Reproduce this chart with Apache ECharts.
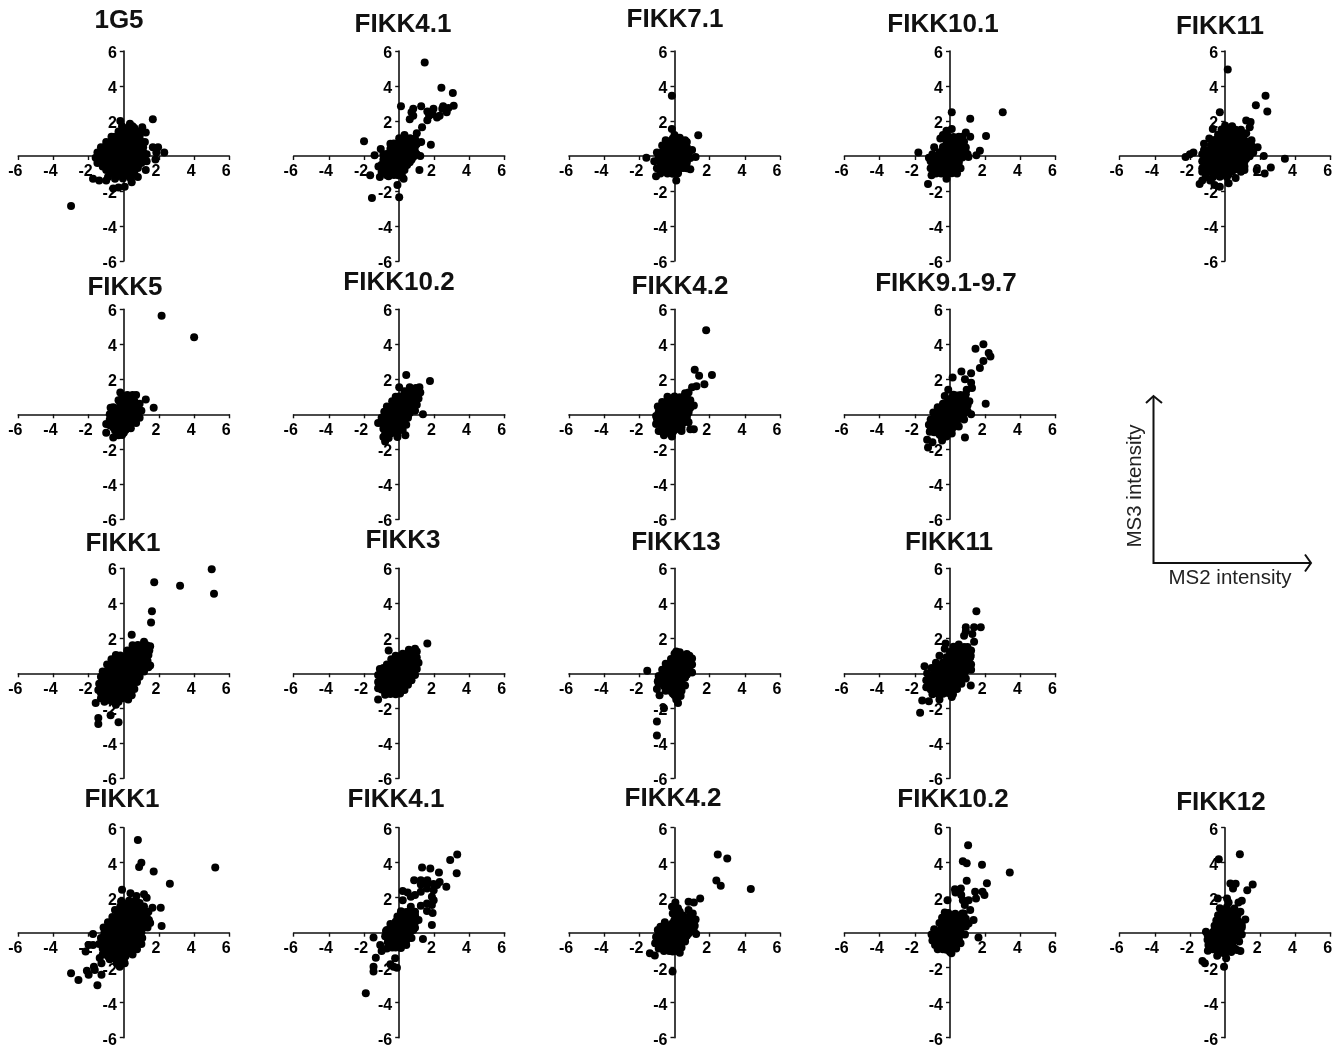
<!DOCTYPE html>
<html><head><meta charset="utf-8">
<style>html,body{margin:0;padding:0;background:#fff}#c{width:1332px;height:1048px}</style>
<script src="https://cdn.jsdelivr.net/npm/echarts@6/dist/echarts.min.js"></script>
</head><body><div id="c"></div>
<script>
const tickValues=[-6,-4,-2,2,4,6];
const titles=["1G5","FIKK4.1","FIKK7.1","FIKK10.1","FIKK11","FIKK5","FIKK10.2","FIKK4.2","FIKK9.1-9.7","FIKK1","FIKK3","FIKK13","FIKK11","FIKK1","FIKK4.1","FIKK4.2","FIKK10.2","FIKK12"];

const d1G5=[[-3,-2.85],[1.65,2.1],[-.2,2],[.35,1.85],[1.05,1.65],[1.25,1.35],[1.65,.5],[1.95,.5],[1.85,.2],[2.3,.2],[1.8,-.2],[1.25,-.8],[-1.75,-1.3],[-1.4,-1.4],[-1,-1.4],[-.6,-1.85],[-.3,-1.8],[.05,-1.75],[.45,-1.5],[-.1,1.7],[.2,1.6],
[-.3,1.4],[.1,1.42],[.5,1.38],[-.5,1.1],[-.15,1.12],[.2,1.08],[.55,1.1],[.9,1.12],[-.7,.8],[-.35,.78],[0,.82],[.35,.8],[.7,.78],[1,.82],[-1.1,.5],[-.75,.52],[-.4,.48],[-.05,.5],[.3,.52],[.7,.48],[1.1,.5],[-1.5,.2],[-1.15,.22],[-.8,.18],[-.42,.2],[-.05,.22],[.33,.18],[.72,.2],[1.12,.2],[-1.6,-.1],[-1.25,-.08],[-.85,-.12],[-.48,-.1],[-.1,-.08],[.28,-.12],[.68,-.1],[1.1,-.1],[-1,-.4],[-.65,-.38],[-.3,-.42],[.05,-.4],[.4,-.38],[.72,-.42],[1,-.4],[-.8,-.7],[-.45,-.72],[-.1,-.68],[.25,-.7],[.55,-.72],[.8,-.68],[-.7,-1],[-.35,-1.02],[0,-.98],[.32,-1],[.6,-1.02],[-.5,-1.3],[-.05,-1.28],[.4,-1.3],
[1.3,.1],[1.3,-.3],[1.2,.8],[.9,1.4],[.6,1.6],[-.7,1.1],[-1,.8],[-1.3,.5],[-1.5,-.4],[-1.2,-.6],[-1,-.8],[-.9,-1.2],[.8,-1.2],[.5,1.7],
[-.2,1.25],[.2,1.25],[.6,1.25],[-.4,.95],[0,.95],[.4,.95],[.8,.95],[-.8,.65],[-.4,.65],[0,.65],[.4,.65],[.8,.65],[1,.65],[-1.2,.35],[-.8,.35],[-.4,.35],[0,.35],[.4,.35],[.8,.35],[1,.35],[-1.4,.05],[-1,.05],[-.6,.05],[-.2,.05],[.2,.05],[.6,.05],[1,.05],[-1.2,-.25],[-.8,-.25],[-.4,-.25],[0,-.25],[.4,-.25],[.9,-.25],[-.8,-.55],[-.4,-.55],[0,-.55],[.4,-.55],[.8,-.55],[-.6,-.85],[-.2,-.85],[.2,-.85],[.6,-.85],[-.4,-1.15],[0,-1.15],[.4,-1.15]];

const dFIKK41a=[[1.45,5.35],[2.4,3.9],[3.05,3.6],[3.1,2.87],[2.8,2.75],[2.5,2.85],[2.45,2.7],[2.7,2.5],[1.95,2.7],[2.3,2.3],[2.15,2.2],[1.9,2.4],[1.7,2.3],[1.6,2.55],[1.25,2.85],[.8,2.7],[.7,2.5],[.8,2.3],[.6,2.1],[.1,2.85],[1.6,2.05],[1.3,1.65],[1,1.3],[1.25,.8],[1.8,.65],[-2,.85],[-1.05,.4],[-1.4,.05],[-1.18,-.6],[-1.65,-1.1],[-1.1,-1.2],[-1.55,-2.4],[0,-2.35],[-.1,-1.65],[1.15,-.8],[1.2,0],[.25,-1.3],[-.6,-1.15],
[0,1.02],[.32,1],[.62,1.02],[.9,.98],[-.3,.72],[.05,.68],[.4,.7],[.72,.72],[1,.68],[-.5,.42],[-.15,.38],[.2,.4],[.55,.42],[.85,.38],[-.7,.12],[-.35,.08],[0,.1],[.35,.12],[.7,.08],[1,.1],[-.9,-.2],[-.55,-.18],[-.2,-.22],[.15,-.2],[.5,-.18],[.7,-.22],[-1,-.5],[-.65,-.52],[-.3,-.48],[.05,-.5],[.45,-.52],[-.9,-.8],[-.55,-.78],[-.2,-.82],[.3,-.8],[-.7,-1.1],[-.3,-1.08],[.15,-1.1],[.1,-.8],[-.05,-1.1],
[-.5,.7],[.3,1.2],[-1,-.9],[-.9,.1],
[.1,.85],[.5,.85],[.8,.85],[-.3,.55],[.1,.55],[.5,.55],[.9,.55],[-.5,.25],[-.1,.25],[.3,.25],[.7,.25],[.9,.25],[-.7,-.05],[-.3,-.05],[.1,-.05],[.5,-.05],[.8,-.05],[-.8,-.35],[-.4,-.35],[0,-.35],[.4,-.35],[.6,-.35],[-.8,-.65],[-.4,-.65],[0,-.65],[.3,-.65],[-.6,-.95],[-.2,-.95],[.1,-.95]];

const dFIKK71=[[-.15,3.45],[1.35,1.18],[-.15,1.55],[0,1.2],[-1.6,-.1],[-1.05,-1.15],[.1,-1.4],[.9,-.75],[1.2,-.05],[1,.35],[.6,.9],[-.5,.9],
[-.3,.82],[.05,.78],[.32,.8],[.5,.82],[-.5,.52],[-.15,.48],[.2,.5],[.5,.55],[.7,.52],[-.7,.22],[-.35,.18],[0,.2],[.35,.22],[.6,.2],[.8,.18],[-.9,-.1],[-.5,-.08],[-.15,-.12],[.2,-.1],[.55,-.08],[.9,-.12],[-.8,-.42],[-.45,-.38],[-.1,-.4],[.3,-.42],[.7,-.38],[-.7,-.72],[-.35,-.68],[0,-.7],[.3,-.72],[.5,-.68],[-.4,-1],[-.1,-1.02],[.2,-.98],
[-1,.2],[-1.15,-.3],[-1,-.7],[-.8,-1],[.7,.8],[-.1,1],[.3,1.05],[.7,-.7],[-.7,.6],
[-.3,.65],[.1,.65],[.5,.65],[-.5,.35],[-.1,.35],[.3,.35],[.7,.35],[-.7,.05],[-.3,.05],[.1,.05],[.5,.05],[.8,.05],[-.7,-.25],[-.3,-.25],[.1,-.25],[.5,-.25],[.7,-.25],[-.6,-.55],[-.2,-.55],[.2,-.55],[.5,-.55],[-.4,-.85],[0,-.85],[.2,-.85]];

const dFIKK101=[[.1,2.5],[3,2.5],[1.15,2.13],[2.05,1.15],[1.15,1.1],[.9,1.35],[.1,1.55],[-.2,1.45],[-.55,1],[1.7,.3],[1.5,.05],[1.05,-.05],[-1.8,.2],[-1.2,-.1],[-1.05,-1.1],[-1.25,-1.6],[-.2,-1.3],
[-.1,1.12],[.2,1.08],[.5,1.1],[-.2,.82],[.15,.78],[.5,.8],[.8,.82],[-.4,.52],[-.05,.48],[.3,.5],[.65,.52],[.9,.48],[-.6,.22],[-.25,.18],[.1,.2],[.5,.22],[.9,.18],[-.8,-.1],[-.45,-.08],[-.1,-.12],[.3,-.1],[.7,-.08],[-.9,-.42],[-.55,-.38],[-.2,-.4],[.15,-.42],[.5,-.38],[-.9,-.72],[-.55,-.68],[-.2,-.7],[.05,-.72],[.3,-.72],[-.5,-1],[-.2,-1.02],[.1,-.98],
[-.4,1.2],[.7,1.1],[-.9,.5],[-1,.1],[-1.1,-.3],[-1.1,-.7],[.6,-.7],[.4,-1],[1,.1],[-.8,-1],
[-.1,.95],[.3,.95],[.6,.95],[-.2,.65],[.2,.65],[.6,.65],[.7,.65],[-.4,.35],[0,.35],[.4,.35],[.8,.35],[-.6,.05],[-.2,.05],[.2,.05],[.6,.05],[.7,.05],[-.8,-.25],[-.4,-.25],[0,-.25],[.4,-.25],[.5,-.25],[-.8,-.55],[-.4,-.55],[0,-.55],[.4,-.55],[-.6,-.85],[-.2,-.85],[.1,-.85]];

const dFIKK11a=[[.15,4.95],[2.3,3.45],[1.75,2.9],[2.4,2.55],[-.3,2.5],[1.2,2.03],[1.45,1.95],[1.4,1.65],[-.7,1.55],[1.85,.5],[2.2,0],[3.4,-.15],[2.6,-.65],[2.25,-1],[1.8,-.8],[1.1,-.8],[.6,-1.25],[.2,-1.55],[-2.25,-.05],[-1.8,.2],[-2,.1],[-1.2,.35],[-1.3,-.9],[-1.45,-1.6],[-1.3,-1.4],[-.85,-1.4],[-.6,-1.65],[-.3,-1.75],
[-.2,1.52],[.2,1.48],[.6,1.5],[-.4,1.22],[-.05,1.18],[.3,1.2],[.65,1.22],[.9,1.18],[-.6,.92],[-.25,.88],[.1,.9],[.45,.92],[.8,.88],[1.1,.9],[-.8,.62],[-.45,.58],[-.1,.6],[.25,.62],[.6,.58],[.95,.6],[1.3,.62],[-.9,.32],[-.55,.28],[-.2,.3],[.15,.32],[.5,.28],[.85,.3],[1.15,.32],[1.4,.28],[-1,.02],[-.65,-.02],[-.3,0],[.05,.02],[.4,-.02],[.75,0],[1.1,.02],[1.4,-.02],[-1.1,-.32],[-.75,-.28],[-.4,-.3],[-.05,-.32],[.3,-.28],[.7,-.3],[1.1,-.32],[-1.1,-.62],[-.75,-.58],[-.4,-.6],[-.05,-.62],[.3,-.58],[.55,-.62],[.8,-.6],[-1,-.92],[-.65,-.88],[-.3,-.9],[.05,-.92],[.4,-.88],[-.7,-1.22],[-.3,-1.18],[.1,-1.2],
[1.5,.6],[1.6,.2],[1.5,.9],[1.2,1.3],[.9,1.5],[.4,1.7],[0,1.75],[-.9,1],[-1.2,.7],[-1.3,.1],[-1.3,-.3],[-1.3,-.7],[1.1,-.6],[.9,-.9],[-1.1,-1.2],
[-.2,1.35],[.2,1.35],[.6,1.35],[-.4,1.05],[0,1.05],[.4,1.05],[.8,1.05],[-.6,.75],[-.2,.75],[.2,.75],[.6,.75],[1,.75],[-.8,.45],[-.4,.45],[0,.45],[.4,.45],[.8,.45],[1.2,.45],[-.9,.15],[-.5,.15],[-.1,.15],[.3,.15],[.7,.15],[1.1,.15],[1.3,.15],[-1,-.15],[-.6,-.15],[-.2,-.15],[.2,-.15],[.6,-.15],[1,-.15],[1.2,-.15],[-1,-.45],[-.6,-.45],[-.2,-.45],[.2,-.45],[.6,-.45],[.9,-.45],[-.9,-.75],[-.5,-.75],[-.1,-.75],[.3,-.75],[.6,-.75],[-.6,-1.05],[-.2,-1.05],[.2,-1.05]];

const dFIKK5=[[2.15,5.63],[4,4.4],[1.25,.85],[1.7,.38],[.7,1.1],[-.2,1.25],[-.75,.38],[-1,-.55],[-1,-1.05],[-.6,-1.33],
[-.1,.92],[.2,.88],[.5,.9],[-.2,.62],[.1,.58],[.4,.6],[.7,.62],[-.4,.32],[-.05,.28],[.3,.3],[.6,.32],[.8,.28],[-.6,.02],[-.25,-.02],[.1,0],[.45,.02],[.8,-.02],[-.7,-.32],[-.35,-.28],[0,-.3],[.3,-.32],[.5,-.28],[-.8,-.62],[-.45,-.58],[-.1,-.6],[.2,-.62],[-.5,-.92],[-.2,-.88],[.1,-.9],[-.3,-1.2],[-.1,-1.18],
[.9,.6],[1,.2],[.9,-.2],[.7,-.5],[.4,-.8],[.2,1.1],[.5,1.1],[-.3,.8],[-.6,.4],[-.8,0],[-.8,-.3],[-.2,-1.1],
[0,.75],[.4,.75],[.6,.75],[-.2,.45],[.2,.45],[.6,.45],[.7,.45],[-.4,.15],[0,.15],[.4,.15],[.8,.15],[-.6,-.15],[-.2,-.15],[.2,-.15],[.6,-.15],[-.7,-.45],[-.3,-.45],[.1,-.45],[.4,-.45],[-.6,-.75],[-.2,-.75],[.1,-.75],[-.3,-1.05],[0,-1.05]];

const dFIKK102a=[[.4,2.25],[1.75,1.9],[1.15,1.55],[.95,1.5],[0,1.55],[1.35,0],[-1.2,-.5],[.35,-1.2],[-.8,-1.55],[-.9,-1.3],
[.3,1.32],[.6,1.28],[.9,1.3],[0,1.02],[.3,.98],[.6,1],[.9,1.02],[-.1,.72],[.2,.68],[.5,.7],[.8,.72],[-.4,.42],[-.1,.38],[.2,.4],[.45,.42],[.7,.38],[-.6,.12],[-.3,.08],[0,.1],[.3,.12],[.6,.08],[-.7,-.18],[-.4,-.22],[-.1,-.2],[.15,-.18],[.3,-.22],[-.8,-.52],[-.5,-.48],[-.2,-.5],[.2,-.52],[-.9,-.82],[-.6,-.78],[-.3,-.8],[0,-.82],[-.8,-1.12],[-.45,-1.08],[-.1,-1.1],
[.9,.2],[1,.55],[1.1,.9],[1.2,1.25],[.6,1.55],[-.2,1],[-.4,.75],[-.7,.45],[-.85,.15],[-1,-.2],[-1,-.5],[.5,-.2],[.4,-.6],[.2,-.9],[-.1,-1.3],[-.6,-1.35],
[.3,1.15],[.7,1.15],[.9,1.15],[0,.85],[.4,.85],[.8,.85],[-.2,.55],[.2,.55],[.6,.55],[.8,.55],[-.5,.25],[-.1,.25],[.3,.25],[.7,.25],[-.6,-.05],[-.2,-.05],[.2,-.05],[.5,-.05],[-.8,-.35],[-.4,-.35],[0,-.35],[.3,-.35],[-.8,-.65],[-.4,-.65],[0,-.65],[.1,-.65],[-.7,-.95],[-.3,-.95],[-.1,-.95]];

const dFIKK42a=[[1.8,4.8],[1.15,2.55],[1.4,2.2],[2.13,2.25],[1.7,1.72],[1.25,1.6],[1,1.55],[.8,1.25],[.9,-.85],[1.1,-.85],[.4,-.75],[-.15,-1.27],[-.6,-1.2],[-.9,-.95],[-1,-.25],[-.8,.4],
[0,1.02],[.3,.98],[.7,1],[-.4,.72],[-.05,.68],[.25,.7],[.55,.72],[.8,.68],[-.6,.42],[-.25,.38],[.1,.4],[.45,.42],[.9,.38],[-.9,.12],[-.55,.08],[-.2,.1],[.15,.12],[.5,.08],[.8,.1],[-.9,-.22],[-.55,-.18],[-.2,-.2],[.15,-.22],[.45,-.18],[.7,-.2],[-.8,-.52],[-.45,-.48],[-.1,-.5],[.25,-.52],[.5,-.48],[-.6,-.82],[-.3,-.78],[0,-.8],[.1,-.82],[-.4,-1.05],[-.1,-1.03],
[1.1,.5],[.9,.8],[.6,1.2],[-.7,.7],[-.95,.45],[-1.05,-.1],[-1.05,-.55],[.8,-.45],[.4,-.95],[-.8,-.95],[-.4,1],
[0,.85],[.4,.85],[.7,.85],[-.4,.55],[0,.55],[.4,.55],[.8,.55],[-.7,.25],[-.3,.25],[.1,.25],[.5,.25],[.8,.25],[-.8,-.05],[-.4,-.05],[0,-.05],[.4,-.05],[.7,-.05],[-.8,-.35],[-.4,-.35],[0,-.35],[.4,-.35],[.6,-.35],[-.6,-.65],[-.2,-.65],[.2,-.65],[.3,-.65],[-.4,-.9],[0,-.9]];

const dFIKK91=[[1.9,4],[1.45,3.75],[2.2,3.5],[2.3,3.3],[1.9,3.05],[1.7,2.65],[.65,2.45],[1.2,2.35],[.15,2.1],[.85,2],[1.2,1.8],[1.25,1.5],[.95,1.4],[-.1,1.4],[2.03,.6],[1.2,0],[.85,-1.33],[-1.3,-1.45],[-1,-1.6],[-1.25,-1.9],[-.45,-1.5],[-1.15,-1],
[.2,1.12],[.4,1.08],[.6,1.1],[-.1,.82],[.25,.78],[.6,.8],[.9,.82],[-.1,.52],[.25,.48],[.6,.5],[1,.52],[-.5,.22],[-.15,.18],[.2,.2],[.55,.22],[1,.18],[-.7,-.12],[-.35,-.08],[0,-.1],[.35,-.12],[.7,-.08],[-.9,-.42],[-.55,-.38],[-.2,-.4],[.15,-.42],[.4,-.38],[-1,-.72],[-.65,-.68],[-.3,-.7],[.2,-.72],[-.9,-1.02],[-.5,-.98],[-.1,-1],[-.5,-1.25],[-.2,-1.27],
[-.3,1.05],[.9,1.15],[-.4,.6],[-.7,.4],[-.95,.1],[-1.1,-.3],[-1.2,-.6],[1.1,.75],[.8,-.3],[.5,-.7],[.1,-1.1],[-1.1,-.9],
[.1,.95],[.5,.95],[.7,.95],[0,.65],[.4,.65],[.8,.65],[.9,.65],[-.3,.35],[.1,.35],[.5,.35],[.9,.35],[-.6,.05],[-.2,.05],[.2,.05],[.6,.05],[.8,.05],[-.8,-.25],[-.4,-.25],[0,-.25],[.4,-.25],[.5,-.25],[-.9,-.55],[-.5,-.55],[-.1,-.55],[.3,-.55],[-.9,-.85],[-.5,-.85],[-.1,-.85],[.1,-.85],[-.6,-1.15],[-.2,-1.15]];

const dFIKK1a=[[5,5.95],[5.13,4.55],[1.73,5.2],[3.2,5],[1.6,3.55],[1.55,2.9],[.45,2.2],[1.15,1.8],[1.5,1.55],[1.4,.35],[-1.6,-1.7],[-1.45,-2.55],[-1.45,-2.9],[-.75,-2.4],[-.3,-2.8],[-.45,-1.8],
[.8,1.62],[1.05,1.58],[1.3,1.6],[.4,1.32],[.75,1.28],[1.05,1.3],[1.3,1.32],[-.2,1.02],[.15,.98],[.5,1],[.85,1.02],[1.2,.98],[-.5,.72],[-.15,.68],[.2,.7],[.55,.72],[.85,.68],[1.1,.7],[-.7,.42],[-.35,.38],[0,.4],[.35,.42],[.7,.38],[1.2,.4],[-.9,.12],[-.55,.08],[-.2,.1],[.15,.12],[.5,.08],[.9,.1],[-1,-.18],[-.65,-.22],[-.3,-.2],[.05,-.18],[.4,-.22],[.7,-.2],[-1.1,-.52],[-.75,-.48],[-.4,-.5],[-.05,-.52],[.3,-.48],[.5,-.5],[-1.2,-.82],[-.85,-.78],[-.5,-.8],[-.15,-.82],[.2,-.78],[.4,-.8],[-1.3,-1.12],[-.95,-1.08],[-.6,-1.1],[-.25,-1.12],[.2,-1.08],[-1.3,-1.42],[-.95,-1.38],[-.5,-1.4],[-.1,-1.42],[-1.1,-1.62],[-.7,-1.6],[-.3,-1.62],
[-.45,1.05],[1.4,1.05],[1.45,1.3],[.2,1.3],[.5,1.6],[-.7,.8],[-.95,.5],[-1.2,.1],[-1.3,-.2],[-1.4,-.6],[-1.45,-.95],[1.35,.7],[1.15,.1],[.9,-.2],[.75,-.5],[.6,-.9],[.45,-1.25],[.25,-1.5],[1.5,.45],
[.7,1.45],[1.1,1.45],[.2,1.15],[.6,1.15],[1,1.15],[1.2,1.15],[-.3,.85],[.1,.85],[.5,.85],[.9,.85],[1.1,.85],[-.6,.55],[-.2,.55],[.2,.55],[.6,.55],[1,.55],[-.8,.25],[-.4,.25],[0,.25],[.4,.25],[.8,.25],[1,.25],[-1,-.05],[-.6,-.05],[-.2,-.05],[.2,-.05],[.6,-.05],[.8,-.05],[-1.1,-.35],[-.7,-.35],[-.3,-.35],[.1,-.35],[.5,-.35],[.6,-.35],[-1.2,-.65],[-.8,-.65],[-.4,-.65],[0,-.65],[.4,-.65],[.5,-.65],[-1.2,-.95],[-.8,-.95],[-.4,-.95],[0,-.95],[.4,-.95],[-1.2,-1.25],[-.8,-1.25],[-.4,-1.25],[0,-1.25],[.2,-1.25],[-1,-1.5],[-.6,-1.5],[-.3,-1.5]];

const dFIKK3=[[1.6,1.7],[-.6,1.3],[1,1.25],[.55,1.35],[.9,1.4],[-1.2,-1.5],[-.95,0],
[.2,1.12],[.4,1.08],[.9,1.1],[0,.92],[.3,.88],[.6,.9],[.9,.92],[-.3,.62],[0,.58],[.3,.6],[.6,.62],[.9,.58],[-.5,.32],[-.2,.28],[.1,.3],[.45,.32],[.8,.28],[-.9,.02],[-.55,-.02],[-.2,0],[.15,.02],[.45,-.02],[.7,0],[-1,-.32],[-.65,-.28],[-.3,-.3],[.05,-.32],[.4,-.28],[-1,-.62],[-.65,-.58],[-.3,-.6],[.2,-.62],[-1,-.92],[-.65,-.88],[-.3,-.9],[0,-.92],[-.8,-1.22],[-.5,-1.18],[-.2,-1.2],
[-.2,1],[-.45,.8],[-.7,.5],[-.9,.3],[-1.1,.25],[-1.2,-.1],[-1.2,-.5],[-1.2,-.85],[1,.9],[1.1,.6],[1,.25],[.9,-.1],[.7,-.4],[.5,-.65],[.3,-.95],[.05,-1.15],[.6,1.1],
[.1,1],[.5,1],[.8,1],[-.2,.75],[.2,.75],[.6,.75],[.9,.75],[-.5,.45],[-.1,.45],[.3,.45],[.7,.45],[.9,.45],[-.8,.15],[-.4,.15],[0,.15],[.4,.15],[.8,.15],[-1,-.15],[-.6,-.15],[-.2,-.15],[.2,-.15],[.6,-.15],[-1,-.45],[-.6,-.45],[-.2,-.45],[.2,-.45],[.5,-.45],[-1,-.75],[-.6,-.75],[-.2,-.75],[.2,-.75],[-.8,-1.05],[-.4,-1.05],[0,-1.05]];

const dFIKK13=[[-1.55,.15],[-.95,-.45],[-1,-.9],[-.85,-1.25],[-.6,-2],[-1,-2.75],[-1,-3.55],[.2,-1.7],[.1,-1.5],[.85,1],[.1,1.25],[1,.05],
[0,1.12],[.35,1.08],[.7,1.1],[-.2,.82],[.15,.78],[.5,.8],[.8,.82],[-.3,.52],[.05,.48],[.4,.5],[.8,.52],[-.5,.22],[-.15,.18],[.2,.2],[.5,.22],[.7,.18],[-.7,-.12],[-.35,-.08],[0,-.1],[.35,-.12],[.7,-.08],[-.7,-.42],[-.35,-.38],[0,-.4],[.4,-.42],[-.6,-.72],[-.3,-.68],[0,-.7],[.2,-.72],[-.5,-1],[-.2,-1.02],[.1,-.98],[0,-1.25],[.1,-1.27],
[1,.5],[1,.85],[-.5,.55],[-.7,.2],[-.9,-.15],[-.9,-.6],[.6,-.7],[.4,-1],[.35,-1.3],[.3,1.2],[.9,.1],
[.1,.95],[.5,.95],[.7,.95],[-.1,.65],[.3,.65],[.7,.65],[.8,.65],[-.3,.35],[.1,.35],[.5,.35],[.8,.35],[-.6,.05],[-.2,.05],[.2,.05],[.6,.05],[.7,.05],[-.7,-.25],[-.3,-.25],[.1,-.25],[.5,-.25],[.6,-.25],[-.7,-.55],[-.3,-.55],[.1,-.55],[.3,-.55],[-.5,-.85],[-.1,-.85],[.1,-.85],[-.1,-1.15],[.1,-1.15]];

const dFIKK11b=[[1.5,3.55],[.9,2.63],[1.37,2.63],[1.75,2.63],[.9,2.4],[1.27,2.25],[.8,2.15],[1.37,1.8],[-.25,1.7],[-1.45,.4],[-1.2,-.55],[1.2,.5],[1.18,-.7],[1.18,1],[-1.58,-1.55],[-1.2,-1.6],[-1.7,-2.25],[-.6,-1.5],[.17,-1.2],
[.2,1.52],[.5,1.48],[.8,1.5],[0,1.22],[.35,1.18],[.7,1.2],[1,1.22],[-.2,.92],[.15,.88],[.5,.9],[.8,.92],[1,.88],[-.4,.62],[-.05,.58],[.3,.6],[.65,.62],[1.1,.58],[-.7,.32],[-.35,.28],[0,.3],[.35,.32],[.7,.28],[.9,.3],[-.9,.02],[-.55,-.02],[-.2,0],[.15,.02],[.5,-.02],[.8,0],[-1.1,-.32],[-.75,-.28],[-.4,-.3],[-.05,-.32],[.3,-.28],[.6,-.3],[-1.1,-.62],[-.75,-.58],[-.4,-.6],[-.05,-.62],[.3,-.58],[-1.1,-.92],[-.75,-.88],[-.4,-.9],[-.1,-.92],[.1,-.88],[-.7,-1.15],[-.4,-1.17],[-.1,-1.13],
[1.2,.2],[1.15,.9],[1.2,1.3],[1,1.5],[-.3,1.4],[-.6,1],[-.8,.6],[-1.05,.3],[-1.3,0],[-1.35,-.4],[-1.35,-.8],[.9,-.3],[.65,-.6],[.4,-.9],[-1,-1.2],[.1,-1.35],[.5,1.65],
[.2,1.35],[.6,1.35],[.9,1.35],[0,1.05],[.4,1.05],[.8,1.05],[1,1.05],[-.2,.75],[.2,.75],[.6,.75],[1,.75],[-.5,.45],[-.1,.45],[.3,.45],[.7,.45],[1,.45],[-.8,.15],[-.4,.15],[0,.15],[.4,.15],[.8,.15],[.9,.15],[-1,-.15],[-.6,-.15],[-.2,-.15],[.2,-.15],[.6,-.15],[.7,-.15],[-1.1,-.45],[-.7,-.45],[-.3,-.45],[.1,-.45],[.5,-.45],[-1.1,-.75],[-.7,-.75],[-.3,-.75],[.1,-.75],[.2,-.75],[-.8,-1.03],[-.4,-1.03],[-.1,-1.03]];

const dFIKK1b=[[.8,5.3],[1,4],[.87,3.75],[1.7,3.5],[5.2,3.73],[2.62,2.8],[-.1,2.45],[.38,2.25],[.72,2.1],[1.15,2.2],[1.3,2],[-.13,1.75],[-.5,1.3],[1.63,1.43],[2.1,1.43],[2.15,.38],[1.43,.72],[-1.75,-.08],[-2,-.7],[-1.75,-.7],[-2.17,-1.08],[-3,-2.32],[-2.58,-2.7],[-2.1,-2.18],[-2,-2.4],[-1.7,-1.94],[-1.65,-2.13],[-1.27,-2.4],[-1.5,-3],[-1.27,-1.75],[-1.37,-1.45],[-.23,-1.94],
[.3,1.82],[.5,1.78],[.7,1.8],[.1,1.52],[.45,1.48],[.9,1.5],[0,1.22],[.35,1.18],[.7,1.2],[1.1,1.22],[-.3,.92],[.05,.88],[.4,.9],[.75,.92],[1.05,.88],[1.3,.9],[-.6,.62],[-.25,.58],[.1,.6],[.45,.62],[.8,.58],[1.2,.6],[-.8,.32],[-.45,.28],[-.1,.3],[.25,.32],[.6,.28],[1.1,.3],[-1.1,.02],[-.75,-.02],[-.4,0],[-.05,.02],[.3,-.02],[.65,0],[1,.02],[-1.2,-.32],[-.85,-.28],[-.5,-.3],[-.15,-.32],[.2,-.28],[.55,-.3],[.9,-.32],[-1.3,-.62],[-.95,-.58],[-.6,-.6],[-.25,-.62],[.1,-.58],[.45,-.6],[.8,-.62],[-1.2,-.92],[-.85,-.88],[-.5,-.9],[-.15,-.92],[.2,-.88],[.5,-.9],[-1.1,-1.22],[-.75,-1.18],[-.4,-1.2],[-.05,-1.22],[.2,-1.18],[-.8,-1.52],[-.45,-1.48],[-.1,-1.5],[0,-1.55],
[-.15,1.8],[-.2,1.5],[1.15,1.5],[-.35,1.2],[1.4,1.2],[-.65,.9],[-.9,.6],[-1.15,.3],[1.35,.3],[-1.3,-.3],[-1.4,-.65],[1.05,-.3],[1,-.65],[.75,-.95],[.5,-1.25],[.05,-1.75],[-.4,-1.75],[-1.2,-1.25],[.9,1.7],[1.5,.55],
[.2,1.65],[.6,1.65],[.8,1.65],[.1,1.35],[.5,1.35],[.9,1.35],[1,1.35],[-.1,1.05],[.3,1.05],[.7,1.05],[1.1,1.05],[1.2,1.05],[-.4,.75],[0,.75],[.4,.75],[.8,.75],[1.2,.75],[-.7,.45],[-.3,.45],[.1,.45],[.5,.45],[.9,.45],[1.1,.45],[-1,.15],[-.6,.15],[-.2,.15],[.2,.15],[.6,.15],[1,.15],[-1.1,-.15],[-.7,-.15],[-.3,-.15],[.1,-.15],[.5,-.15],[.9,-.15],[-1.2,-.45],[-.8,-.45],[-.4,-.45],[0,-.45],[.4,-.45],[.8,-.45],[-1.2,-.75],[-.8,-.75],[-.4,-.75],[0,-.75],[.4,-.75],[.7,-.75],[-1.1,-1.05],[-.7,-1.05],[-.3,-1.05],[.1,-1.05],[.4,-1.05],[-.9,-1.35],[-.5,-1.35],[-.1,-1.35],[.1,-1.35],[-.4,-1.65],[-.1,-1.65]];

const dFIKK41b=[[3.3,4.47],[2.9,4.15],[3.27,3.4],[1.3,3.73],[1.77,3.67],[2.26,3.44],[.85,3],[1.23,3],[1.6,3],[1.23,2.75],[1.58,2.78],[1.95,2.78],[2.3,2.9],[2.68,2.62],[2.15,2.72],[1.96,2.43],[1.58,2.53],[1.23,2.34],[.9,2.15],[.66,2.05],[.2,2.38],[.48,2.3],[.2,1.86],[1.86,2.05],[1.96,1.86],[1.86,1.58],[1.58,1.67],[1.23,1.54],[1.58,1.24],[1.9,1.12],[.66,1.48],[.9,1.2],[1.1,.72],[1.86,.44],[1.35,-.36],[-1.46,-.28],[-1.08,-.7],[-.7,-.9],[-1,-1.05],[-1.33,-1.43],[-1.46,-1.94],[-1.46,-2.22],[-1.9,-3.46],[-.5,-1.8],[-.23,-1.46],[-.32,-1.94],[-.13,-2],[-.7,.15],
[.1,1.22],[.4,1.18],[-.1,.92],[.25,.88],[.6,.9],[-.2,.62],[.15,.58],[.5,.6],[.8,.62],[-.4,.32],[-.05,.28],[.3,.3],[.65,.32],[.9,.28],[-.6,.02],[-.25,-.02],[.1,0],[.45,.02],[.6,-.02],[-.5,-.32],[-.15,-.28],[.2,-.3],[.5,-.32],[-.4,-.62],[-.1,-.58],[.2,-.6],[-.2,-.85],[.1,-.87],
[.9,.6],[.7,-.3],[.6,1.2],[-.5,.5],[-.75,.1],[-.8,-.2],[-.65,-.55],[.4,-.7],[-.4,-.85],[.9,1],
[.1,1.05],[.5,1.05],[-.1,.75],[.3,.75],[.7,.75],[-.3,.45],[.1,.45],[.5,.45],[.8,.45],[-.5,.15],[-.1,.15],[.3,.15],[.7,.15],[.8,.15],[-.5,-.15],[-.1,-.15],[.3,-.15],[.5,-.15],[-.4,-.45],[0,-.45],[.4,-.45],[-.2,-.72],[.1,-.72]];

const dFIKK42b=[[2.46,4.47],[3,4.24],[2.38,2.98],[2.63,2.68],[4.34,2.5],[1.46,1.96],[1.1,1.73],[.8,1.77],[.05,1.73],[-.14,1.48],[.2,1.4],[-1.4,-1.18],[-1.12,-1.3],[-.11,-2.22],[1.23,-.08],[1.04,1.1],[.8,1.3],[-1,-.42],[-.8,.34],
[.1,1.02],[.5,.98],[.9,1],[0,.72],[.3,.68],[.6,.7],[.9,.72],[-.3,.42],[.05,.38],[.4,.4],[.7,.42],[1,.38],[-.7,.12],[-.35,.08],[0,.1],[.35,.12],[.7,.08],[.9,.1],[-.8,-.22],[-.45,-.18],[-.1,-.2],[.25,-.22],[.7,-.18],[-.9,-.52],[-.55,-.48],[-.2,-.5],[.15,-.52],[.4,-.48],[-.7,-.82],[-.4,-.78],[-.1,-.8],[.2,-.82],[-.3,-1.05],[-.1,-1.07],[.1,-1.03],
[1.15,.4],[1.2,.75],[1.1,.1],[.3,1.2],[-.1,1.1],[-.55,.6],[-.95,.15],[-1.05,-.25],[-1.1,-.6],[-.9,-.9],[.6,-.5],[.4,-.85],[-.6,-1.05],[.3,-1.15],
[.1,.85],[.5,.85],[.9,.85],[-.1,.55],[.3,.55],[.7,.55],[.9,.55],[-.5,.25],[-.1,.25],[.3,.25],[.7,.25],[.9,.25],[-.7,-.05],[-.3,-.05],[.1,-.05],[.5,-.05],[.8,-.05],[-.8,-.35],[-.4,-.35],[0,-.35],[.4,-.35],[.6,-.35],[-.8,-.65],[-.4,-.65],[0,-.65],[.3,-.65],[-.4,-.92],[0,-.92],[.1,-.92]];

const dFIKK102b=[[1.03,5],[.73,4.08],[.95,3.97],[1.82,3.88],[3.4,3.44],[.95,2.97],[2.1,2.83],[.28,2.49],[.62,2.53],[.31,2.3],[1.85,2.34],[1.43,2.34],[1.96,2.15],[1.48,1.96],[1.06,1.86],[.64,2.15],[.73,1.86],[-.14,1.86],[1.15,1.3],[.84,1.58],[.78,1.1],[1.34,.72],[1.06,.53],[1.62,-.28],[.08,-1.18],[-.9,-.08],
[-.1,1.12],[.3,1.08],[.7,1.1],[-.3,.82],[.05,.78],[.4,.8],[.7,.82],[-.4,.52],[-.05,.48],[.3,.5],[.6,.52],[-.5,.22],[-.15,.18],[.2,.2],[.6,.22],[-.8,-.12],[-.45,-.08],[-.1,-.1],[.25,-.12],[.6,-.08],[-.7,-.42],[-.35,-.38],[0,-.4],[.3,-.42],[.5,-.38],[-.6,-.72],[-.3,-.68],[0,-.7],[.2,-.72],[-.4,-.95],[-.2,-.97],[0,-.93],
[-.9,.2],[-1.05,-.1],[-1,-.45],[-.85,-.7],[-.7,-.95],[.9,.35],[.85,-.1],[-.6,.55],[-.45,.85],[-.3,1.15],[.6,-.6],[.35,-.9],[0,-1.1],[.9,.8],[.9,.6],
[-.1,.95],[.3,.95],[.6,.95],[-.3,.65],[.1,.65],[.5,.65],[.6,.65],[-.4,.35],[0,.35],[.4,.35],[.6,.35],[-.7,.05],[-.3,.05],[.1,.05],[.5,.05],[.6,.05],[-.7,-.25],[-.3,-.25],[.1,-.25],[.5,-.25],[-.6,-.55],[-.2,-.55],[.2,-.55],[.3,-.55],[-.4,-.82],[0,-.82],[.1,-.82]];

const dFIKK12=[[.84,4.49],[-.36,4.2],[.3,2.81],[.6,2.8],[.45,2.53],[1.57,2.76],[1.26,2.43],[-.42,1.96],[.11,1.96],[.95,1.83],[.76,1.73],[.2,1.73],[.53,1.39],[.87,1.2],[1.15,.76],[.95,.44],[-1.09,.06],[.67,-.99],[.87,-1.05],[-1.29,-1.62],[-1.15,-1.75],[-.06,-1.94],[.06,-1.46],[-.98,-1.03],[-.45,-1.31],
[-.1,1.22],[.1,1.18],[.3,1.2],[-.2,.92],[.15,.88],[.5,.9],[-.3,.62],[.05,.58],[.35,.6],[.6,.62],[-.5,.32],[-.15,.28],[.2,.3],[.45,.32],[.7,.28],[-.7,.02],[-.35,-.02],[0,0],[.35,.02],[.8,-.02],[-.8,-.32],[-.45,-.28],[-.1,-.3],[.25,-.32],[.6,-.28],[-.7,-.62],[-.35,-.58],[0,-.6],[.4,-.62],[-.5,-.92],[-.15,-.88],[.2,-.9],[-.3,-1.15],[-.05,-1.17],[0,-1.13],
[-1,-.1],[-1,-.4],[-.95,-.7],[-.7,-.95],[-.6,.4],[-.5,.7],[-.4,1],[-.3,1.4],[.5,1.2],[.75,.65],[.95,.3],[.95,-.1],[.8,-.5],[.55,-.9],[.35,-1.1],[.1,1.45],[.7,1],
[-.1,1.05],[.3,1.05],[-.2,.75],[.2,.75],[.5,.75],[-.4,.45],[0,.45],[.4,.45],[.6,.45],[-.6,.15],[-.2,.15],[.2,.15],[.6,.15],[.7,.15],[-.7,-.15],[-.3,-.15],[.1,-.15],[.5,-.15],[.7,-.15],[-.7,-.45],[-.3,-.45],[.1,-.45],[.5,-.45],[-.6,-.75],[-.2,-.75],[.2,-.75],[.3,-.75],[-.3,-1.02],[.1,-1.02]];

const panelData=[d1G5,dFIKK41a,dFIKK71,dFIKK101,dFIKK11a,dFIKK5,dFIKK102a,dFIKK42a,dFIKK91,dFIKK1a,dFIKK3,dFIKK13,dFIKK11b,dFIKK1b,dFIKK41b,dFIKK42b,dFIKK102b,dFIKK12];

// layout
const colL=[18.3,293.7,569,844.5,1119.6], plotW=211;
const rowT=[51,309.3,568.3,827.7], plotH=210;
const cells=[[0,0],[0,1],[0,2],[0,3],[0,4],[1,0],[1,1],[1,2],[1,3],[2,0],[2,1],[2,2],[2,3],[3,0],[3,1],[3,2],[3,3],[3,4]];
const titleX=[119,403,675,943,1220,125,399,680,946,123,403,676,949,122,396,673,953,1221];
const titleY=[21,25,20,25,27,288,283,287,284,544,541,543,543,800,800,799,800,803];
const ink='#111';
const FONT='"Liberation Sans",Arial,sans-serif';

const grid=[],xAxis=[],yAxis=[],series=[],title=[];
const lab=v=>tickValues.includes(v)?String(v):'';
cells.forEach(([r,c],i)=>{
  grid.push({left:colL[c],top:rowT[r],width:plotW,height:plotH,outerBoundsMode:'none',containLabel:false});
  const common={min:-6,max:6,interval:2,gridIndex:i,splitLine:{show:false},
    axisLine:{show:true,onZero:false,lineStyle:{color:ink,width:1.6}},
    axisTick:{show:true,length:4,lineStyle:{color:ink,width:1.4}}};
  xAxis.push({type:'value',position:'bottom',offset:-plotH/2,...common,axisLabel:{formatter:lab,margin:8,padding:[0,6,0,0],color:'#000',fontFamily:FONT,fontWeight:'bold',fontSize:16}});
  yAxis.push({type:'value',position:'left',offset:-plotW/2,...common,axisLabel:{formatter:lab,margin:7,verticalAlign:'top',lineHeight:5,color:'#000',fontFamily:FONT,fontWeight:'bold',fontSize:16}});
  series.push({type:'scatter',xAxisIndex:i,yAxisIndex:i,data:panelData[i],symbol:'circle',symbolSize:8,itemStyle:{color:'#000',opacity:1},z:5,silent:true,clip:false});
  title.push({text:titles[i],left:titleX[i],top:titleY[i],padding:0,textAlign:'center',textVerticalAlign:'middle',textStyle:{fontFamily:FONT,fontWeight:'bold',fontSize:26,color:'#111'}});
});

const arrowStyle={stroke:'#111',lineWidth:2,fill:null};
const graphic=[
 {type:'polyline',shape:{points:[[1153.5,396],[1153.5,563],[1311,563]]},style:arrowStyle},
 {type:'polyline',shape:{points:[[1146,403],[1153.5,396],[1162,403]]},style:arrowStyle},
 {type:'polyline',shape:{points:[[1305,554.5],[1311,563],[1305,571.5]]},style:arrowStyle},
 {type:'text',x:1230,y:578,style:{text:'MS2 intensity',fill:'#222',font:'20.5px '+FONT,textAlign:'center',textVerticalAlign:'middle'}},
 {type:'text',x:1135,y:486,rotation:Math.PI/2,style:{text:'MS3 intensity',fill:'#222',font:'20.5px '+FONT,textAlign:'center',textVerticalAlign:'middle'}}
];

const chart=echarts.init(document.getElementById('c'),null,{renderer:'canvas'});
chart.setOption({animation:false,backgroundColor:'#fff',title,grid,xAxis,yAxis,series,graphic});
</script></body></html>
